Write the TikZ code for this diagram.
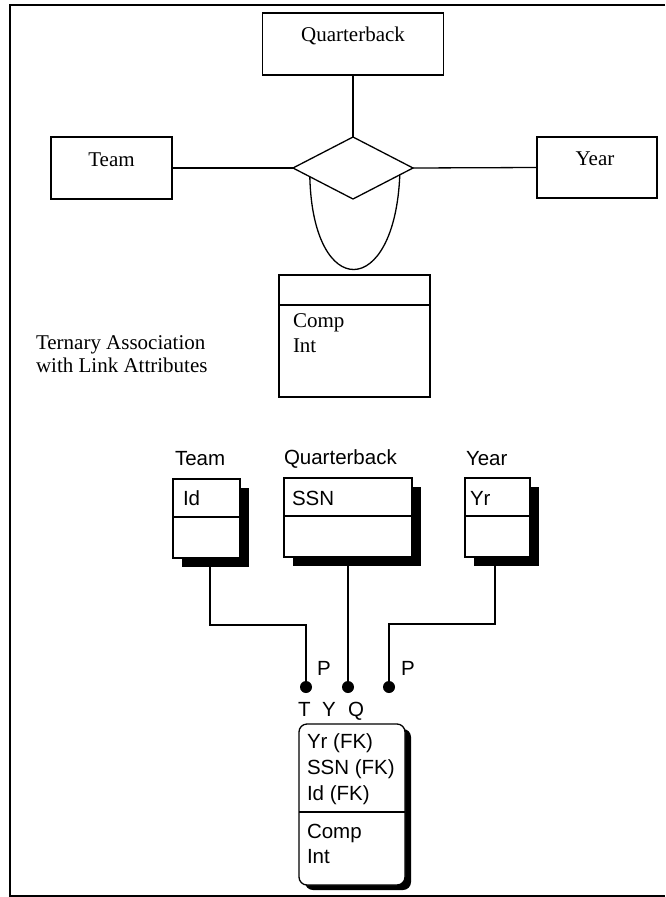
\documentclass[tikz,border=0pt]{standalone}
\usepackage{fontspec}
\setmainfont{Liberation Serif}
\newfontfamily\arialfont{Liberation Sans}
\usetikzlibrary{shapes.geometric,calc,shadows}
\begin{document}
\begin{tikzpicture}[x=1pt,y=-1pt,
  every node/.style={inner sep=0pt,outer sep=0pt},
  lw/.style={line width=1.3pt},
  serif/.style={font=\fontsize{21}{25}\selectfont},
  sans/.style={font=\arialfont\fontsize{20.5}{24}\selectfont},
  ebox/.style={draw,lw,rectangle,fill=white},
  tbox/.style={draw,lw,rectangle,fill=white,drop shadow={shadow xshift=9pt,shadow yshift=-9pt,fill=black,opacity=1}},
  rbox/.style={draw,lw,rectangle,rounded corners=8pt,fill=white,drop shadow={shadow xshift=6pt,shadow yshift=-5pt,fill=black,opacity=1}},
  dotnode/.style={circle,fill=black,minimum size=12pt},
]
\useasboundingbox (0,0) rectangle (665,897);
\fill[white] (0,0) rectangle (665,897);
% frame
\draw[line width=2pt] (665,5) -- (10,5) -- (10,896) -- (665,896);

% ---------- top: ER diagram ----------
\node[ebox, minimum width=181pt, minimum height=62pt] (qb) at (353,44) {};
\node[serif, anchor=base] (qbt) at ([yshift=-28pt]qb.north) {Quarterback};
\node[ebox, minimum width=121pt, minimum height=62pt] (team) at (111.5,168) {};
\node[serif, anchor=base] (teamt) at ([yshift=-29pt]team.north) {Team};
\node[ebox, minimum width=120pt, minimum height=61pt] (year) at (597,167.5) {};
\node[serif, anchor=base] (yeart) at ([yshift=-28pt,xshift=-2pt]year.north) {Year};
\node[diamond, draw, lw, minimum width=120pt, minimum height=62pt] (dia) at (353,168) {};
\draw[lw] (qb.south) -- (dia.north);
\draw[lw] (team.east) -- (dia.west);
\draw[lw] (dia.east) -- (year.west);
\draw[lw] ($(dia.west)!0.28!(dia.south)$) .. controls +(3,125) and +(-5,125) .. ($(dia.east)!0.22!(dia.south)$);

\node[ebox, minimum width=151pt, minimum height=122pt] (lnk) at (354.5,336) {};
\draw[lw] ([yshift=-30pt]lnk.north west) -- ([yshift=-30pt]lnk.north east);
\node[serif, anchor=base west] (comp1) at (293,327) {Comp};
\node[serif, anchor=base west] (int1) at (293,352) {Int};
\node[serif, anchor=base west] (cap1) at (36,349) {Ternary Association};
\node[serif, anchor=base west] (cap2) at (36,372) {with Link Attributes};

% ---------- bottom: relational diagram ----------
\node[tbox, minimum width=67pt, minimum height=79pt] (tl) at (206.5,518.5) {};
\draw[lw] ([yshift=-38pt]tl.north west) -- ([yshift=-38pt]tl.north east);
\node[sans, anchor=base west] (tlab) at (175,465) {Team};
\node[sans, anchor=base west] (tid) at (183,505) {Id};

\node[tbox, minimum width=128pt, minimum height=79pt] (ql) at (348,517.5) {};
\draw[lw] ([yshift=-38pt]ql.north west) -- ([yshift=-38pt]ql.north east);
\node[sans, anchor=base west] (qlab) at (284,464) {Quarterback};
\node[sans, anchor=base west] (qssn) at (292,505) {SSN};

\node[tbox, minimum width=65pt, minimum height=79pt] (yl) at (497.5,517.5) {};
\draw[lw] ([yshift=-38pt]yl.north west) -- ([yshift=-38pt]yl.north east);
\node[sans, anchor=base west] (ylab) at (466,465) {Year};
\node[sans, anchor=base west] (yyr) at (470,505) {Yr};

\node[dotnode] (dT) at (306,687) {};
\node[dotnode] (dQ) at (348,687) {};
\node[dotnode] (dY) at (389,687) {};
\draw[lw] ([xshift=3.5pt]tl.south) -- ++(0,67) -| (dT);
\draw[lw] (ql.south) -- (dQ);
\draw[lw] ([xshift=-2.5pt]yl.south) -- ++(0,67) -| (dY);

\node[sans, anchor=base west] (p1) at (317,675) {P};
\node[sans, anchor=base west] (p2) at (401,675) {P};
\node[sans, anchor=base west] (rt) at (298,716) {T};
\node[sans, anchor=base west] (ry) at (322,716) {Y};
\node[sans, anchor=base west] (rq) at (348,716) {Q};

\node[rbox, minimum width=106pt, minimum height=161pt] (qt) at (352,804.5) {};
\draw[lw] ([yshift=-88pt]qt.north west) -- ([yshift=-88pt]qt.north east);
\node[sans, anchor=base west] (f1) at (307,748) {Yr (FK)};
\node[sans, anchor=base west] (f2) at (307,774) {SSN (FK)};
\node[sans, anchor=base west] (f3) at (307,800) {Id (FK)};
\node[sans, anchor=base west] (f4) at (307,838) {Comp};
\node[sans, anchor=base west] (f5) at (307,863) {Int};
\end{tikzpicture}
\end{document}
